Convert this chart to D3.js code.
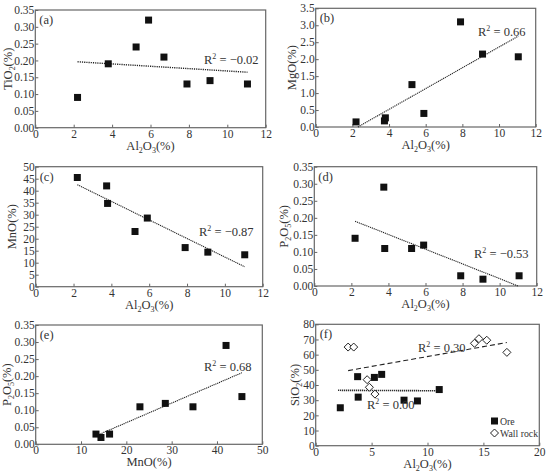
<!DOCTYPE html>
<html><head><meta charset="utf-8">
<script src="https://cdn.jsdelivr.net/npm/d3@7"></script>
<style>body{margin:0;background:#fff}</style>
</head><body><svg id="c" width="550" height="473" font-family="'Liberation Serif', 'Times New Roman', serif"></svg>
<script>
// Data
const al2o3 = [2.2, 3.75, 3.8, 5.25, 5.9, 7.9, 9.1, 11.05];
const al2o3A = [2.2, 3.8, 5.25, 5.9, 6.7, 7.9, 9.1, 11.05];
const tio2 = [0.09, 0.19, 0.24, 0.32, 0.21, 0.13, 0.14, 0.13];
const mgo = [0.15, 0.18, 0.27, 1.25, 0.4, 3.1, 2.15, 2.07];
const mno = [45.5, 42, 34.7, 23, 28.6, 16.3, 14.4, 13.3];
const p2o5 = [0.14, 0.29, 0.11, 0.11, 0.12, 0.03, 0.02, 0.03];
const sio2Ore = [25, 45.5, 32, 45, 47, 30, 29.5, 37];
const wallAl = [2.9, 3.4, 4.6, 4.8, 5.3, 14.2, 14.6, 15.3, 17.1];
const wallSi = [65, 65, 43.5, 38.5, 34, 67.5, 70.5, 69.5, 61.5];
// trend line endpoints [x0,y0,x1,y1]
const trendA = [2.2, 0.196, 11.05, 0.165];
const trendB = [2.3, 0.0, 11.05, 2.68];
const trendC = [2.2, 42.5, 11.05, 8.3];
const trendD = [2.2, 0.19, 11.0, 0.0];
const trendE = [13.3, 0.025, 45.5, 0.21];
const trendFOre = [2.0, 36.5, 11.05, 36.2];
const trendFWall = [2.9, 49.5, 17.1, 68];
const r2 = {a:"= −0.02", b:"= 0.66", c:"= −0.87", d:"= −0.53", e:"= 0.68", f1:"= 0.30", f2:"= 0.00"};
const legendLabels = ["Ore", "Wall rock"];

const FONT = "'Liberation Serif', 'Times New Roman', serif";
const svg = d3.select("#c");
const frameCol = "#666";
const txtCol = "#333";

function label(g, parts, x, y, rotate){
  const t = g.append("text").attr("font-size",12.5).attr("text-anchor","middle").attr("fill",txtCol).attr("font-family",FONT);
  if(rotate) t.attr("transform",`translate(${x},${y}) rotate(-90)`); else t.attr("x",x).attr("y",y);
  let shift = 0;
  parts.forEach(p=>{
    if(Array.isArray(p)){
      t.append("tspan").attr("font-size",8).attr("dy",3).text(p[0]);
      shift = -3;
    } else { t.append("tspan").attr("dy",shift).text(p); shift = 0; }
  });
  return t;
}
function r2text(g,x,y,val){
  const t = g.append("text").attr("x",x).attr("y",y).attr("font-size",12.5).attr("fill",txtCol).attr("font-family",FONT);
  t.append("tspan").text("R");
  t.append("tspan").attr("font-size",8).attr("dy",-5).text("2");
  t.append("tspan").attr("dy",5).text(" "+val);
}

function panel(o){
  const g = svg.append("g");
  const x = d3.scaleLinear().domain(o.xd).range([o.x0,o.x1]);
  const y = d3.scaleLinear().domain(o.yd).range([o.yb,o.yt]);
  const ax = g.append("g").attr("transform",`translate(0,${o.yb})`)
    .call(d3.axisBottom(x).tickValues(o.xt).tickSize(-3).tickPadding(2).tickFormat(d3.format("d")));
  const ay = g.append("g").attr("transform",`translate(${o.x0},0)`)
    .call(d3.axisLeft(y).tickValues(o.yt2).tickSize(-3).tickPadding(1).tickFormat(o.yfmt));
  [ax,ay].forEach(a=>{
    a.attr("font-family",FONT).attr("font-size",11.5);
    a.select(".domain").remove();
    a.selectAll("line").attr("stroke",frameCol);
    a.selectAll("text").attr("fill",txtCol);
  });
  g.append("rect").attr("x",o.x0).attr("y",o.yt).attr("width",o.x1-o.x0).attr("height",o.yb-o.yt)
    .attr("fill","none").attr("stroke",frameCol).attr("stroke-width",1.2);
  g.append("text").attr("x",o.x0+4).attr("y",o.yt+14).attr("font-size",12.5).attr("fill",txtCol).attr("font-family",FONT).text(o.tag);
  label(g,o.xl,(o.x0+o.x1)/2,o.yb+22,false);
  label(g,o.yl,o.ylx,(o.yt+o.yb)/2,true);
  o.lines.forEach(L=>{
    g.append("line").attr("x1",x(L.d[0])).attr("y1",y(L.d[1])).attr("x2",x(L.d[2])).attr("y2",y(L.d[3]))
      .attr("stroke","#222").attr("stroke-width",L.w||1.4).attr("stroke-dasharray",L.dash||"1.2,1");
  });
  o.series.forEach(s=>{
    s.xs.forEach((xv,i)=>{
      const px=x(xv), py=y(s.ys[i]);
      if(s.type==="sq"){
        g.append("rect").attr("x",px-3.5).attr("y",py-3.5).attr("width",7).attr("height",7).attr("fill","#111");
      } else {
        g.append("path").attr("d",`M${px},${py-4}L${px+4},${py}L${px},${py+4}L${px-4},${py}Z`)
          .attr("fill","#fff").attr("stroke","#222").attr("stroke-width",1);
      }
    });
  });
  o.r2.forEach(r=>r2text(g,r[0],r[1],r[2]));
  return g;
}

const f2 = d3.format(".2f"), f1 = d3.format(".1f"), fd = d3.format("d");
const AL = ["Al",["2"],"O",["3"],"(%)"];

panel({x0:35.3,x1:265.7,yt:10,yb:127.7,xd:[0,12],yd:[0,0.35],xt:[0,2,4,6,8,10,12],
  yt2:[0,0.05,0.1,0.15,0.2,0.25,0.3,0.35],yfmt:f2,tag:"(a)",xl:AL,yl:["TiO",["2"],"(%)"],ylx:12,
  lines:[{d:trendA}],series:[{type:"sq",xs:al2o3A,ys:tio2}],r2:[[204,64,r2.a]]});
panel({x0:315.7,x1:535.7,yt:8.3,yb:127,xd:[0,12],yd:[0,3.5],xt:[0,2,4,6,8,10,12],
  yt2:[0,0.5,1,1.5,2,2.5,3,3.5],yfmt:f1,tag:"(b)",xl:AL,yl:["MgO(%)"],ylx:296,
  lines:[{d:trendB,dash:"1.2,0.8",w:1.1}],series:[{type:"sq",xs:al2o3,ys:mgo}],r2:[[478,36,r2.b]]});
panel({x0:35.7,x1:262.7,yt:166.7,yb:286.7,xd:[0,12],yd:[0,50],xt:[0,2,4,6,8,10,12],
  yt2:[0,5,10,15,20,25,30,35,40,45,50],yfmt:fd,tag:"(c)",xl:AL,yl:["MnO(%)"],ylx:16,
  lines:[{d:trendC,dash:"1.2,0.8",w:1.1}],series:[{type:"sq",xs:al2o3,ys:mno}],r2:[[199,236,r2.c]]});
panel({x0:314.3,x1:536.7,yt:166.7,yb:286,xd:[0,12],yd:[0,0.35],xt:[0,2,4,6,8,10,12],
  yt2:[0,0.05,0.1,0.15,0.2,0.25,0.3,0.35],yfmt:f2,tag:"(d)",xl:AL,yl:["P",["2"],"O",["5"],"(%)"],ylx:288,
  lines:[{d:trendD,dash:"1.2,0.8",w:1.1}],series:[{type:"sq",xs:al2o3,ys:p2o5}],r2:[[474,258,r2.d]]});
panel({x0:35.7,x1:262.3,yt:325,yb:444.3,xd:[0,50],yd:[0,0.35],xt:[0,10,20,30,40,50],
  yt2:[0,0.05,0.1,0.15,0.2,0.25,0.3,0.35],yfmt:f2,tag:"(e)",xl:["MnO(%)"],yl:["P",["2"],"O",["5"],"(%)"],ylx:11,
  lines:[{d:trendE,dash:"1.2,0.8",w:1.1}],series:[{type:"sq",xs:mno,ys:p2o5}],r2:[[204,371,r2.e]]});
const gf = panel({x0:315.7,x1:539.3,yt:324.3,yb:445.7,xd:[0,20],yd:[0,80],xt:[0,5,10,15,20],
  yt2:[0,10,20,30,40,50,60,70,80],yfmt:fd,tag:"(f)",xl:AL,yl:["SiO",["2"],"(%)"],ylx:299,
  lines:[{d:trendFOre,dash:"1.2,0.8",w:1.6},{d:trendFWall,dash:"5,3",w:1.1}],
  series:[{type:"sq",xs:al2o3,ys:sio2Ore},{type:"dia",xs:wallAl,ys:wallSi}],
  r2:[[418,352,r2.f1],[367,409,r2.f2]]});
// legend
gf.append("rect").attr("x",491).attr("y",417.5).attr("width",7).attr("height",7).attr("fill","#111");
gf.append("text").attr("x",500).attr("y",424.5).attr("font-size",9.8).attr("fill",txtCol).attr("font-family",FONT).text(legendLabels[0]);
gf.append("path").attr("d","M494.5,429L498.5,433L494.5,437L490.5,433Z").attr("fill","#fff").attr("stroke","#222");
gf.append("text").attr("x",500).attr("y",436.5).attr("font-size",9.8).attr("fill",txtCol).attr("font-family",FONT).text(legendLabels[1]);
</script></body></html>
